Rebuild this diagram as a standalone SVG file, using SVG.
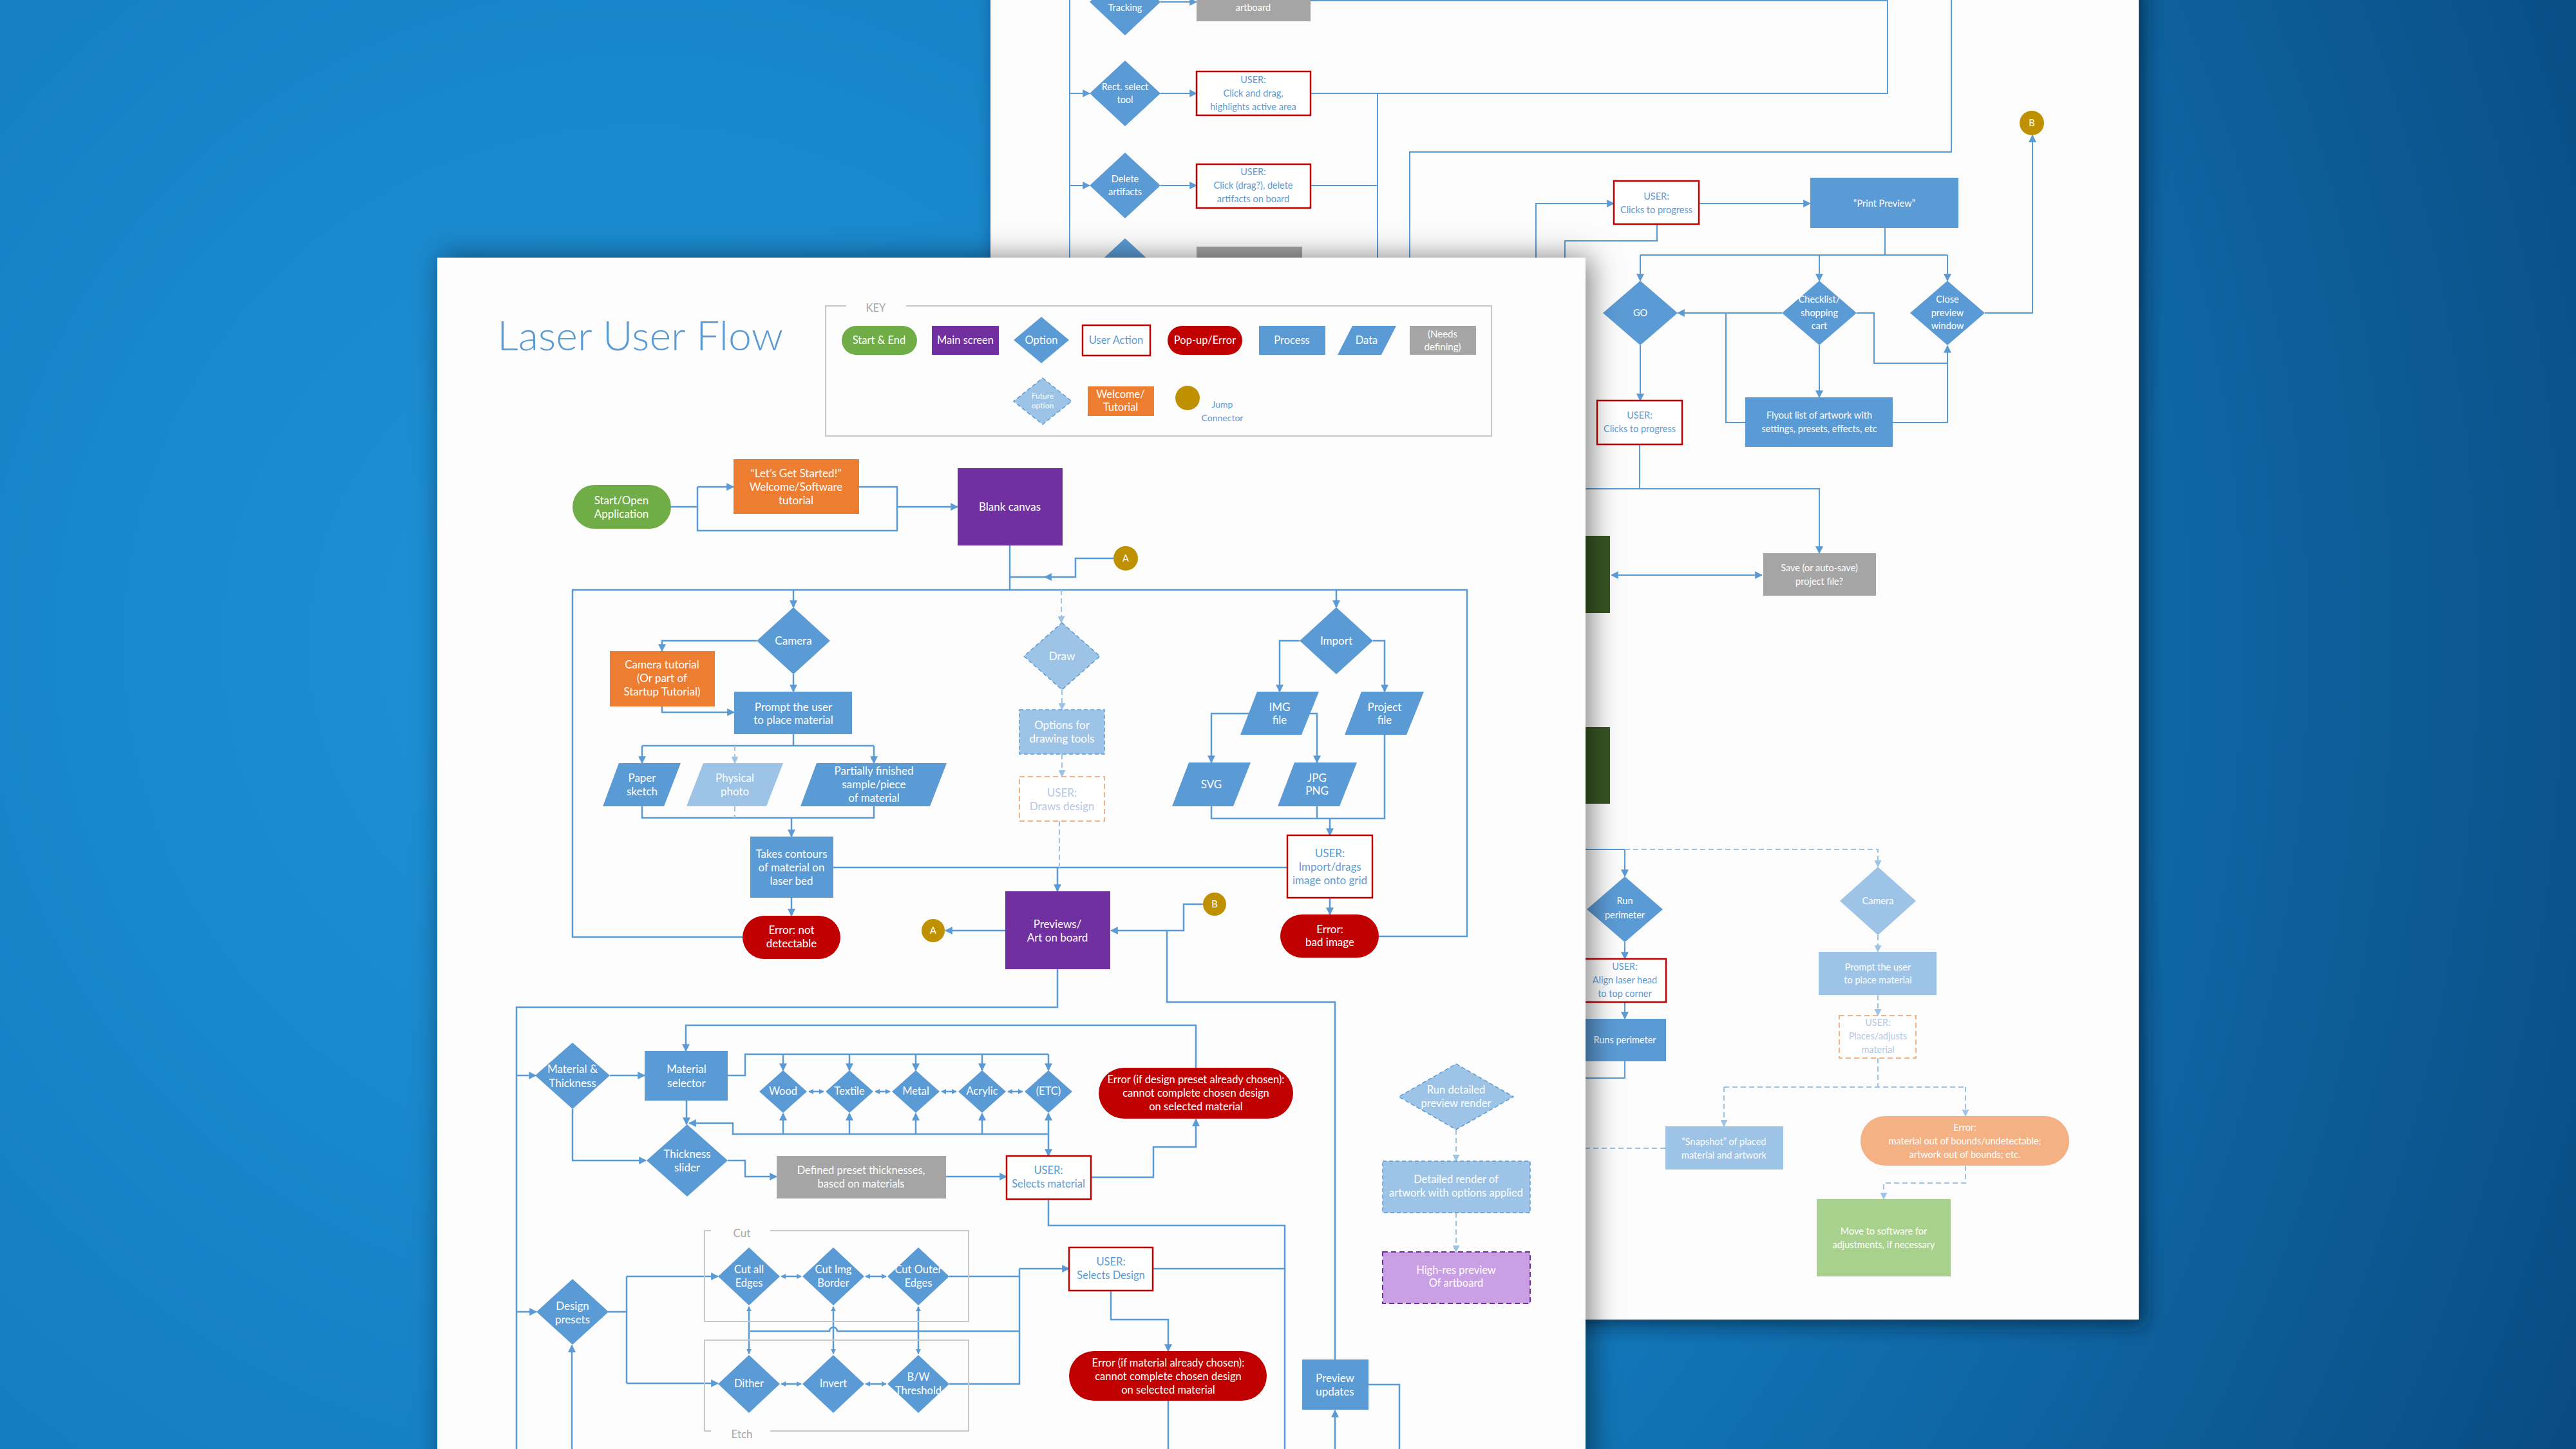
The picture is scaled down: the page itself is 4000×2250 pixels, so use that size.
<svg xmlns="http://www.w3.org/2000/svg" width="4000" height="2250" viewBox="0 0 4000 2250">
<defs>
<radialGradient id="bg" cx="1000" cy="1000" r="3300" gradientUnits="userSpaceOnUse">
<stop offset="0" stop-color="#1f93d8"/><stop offset="0.5" stop-color="#137cc0"/><stop offset="1" stop-color="#094a80"/>
</radialGradient>
<filter id="sh1" x="-5%" y="-5%" width="112%" height="112%"><feDropShadow dx="10" dy="10" stdDeviation="14" flood-color="#001a33" flood-opacity="0.6"/></filter>
<filter id="sh2" x="-5%" y="-5%" width="112%" height="112%"><feDropShadow dx="8" dy="0" stdDeviation="22" flood-color="#000" flood-opacity="0.5"/></filter>
<marker id="ar" viewBox="0 0 10 10" refX="9" refY="5" markerWidth="12" markerHeight="12" markerUnits="userSpaceOnUse" orient="auto-start-reverse"><path d="M0,0 L10,5 L0,10 z" fill="#5b9bd5"/></marker>
<marker id="as" viewBox="0 0 10 10" refX="9" refY="5" markerWidth="8" markerHeight="8" markerUnits="userSpaceOnUse" orient="auto-start-reverse"><path d="M0,0 L10,5 L0,10 z" fill="#5b9bd5"/></marker>
<marker id="al" viewBox="0 0 10 10" refX="9" refY="5" markerWidth="11" markerHeight="11" markerUnits="userSpaceOnUse" orient="auto-start-reverse"><path d="M0,0 L10,5 L0,10 z" fill="#9dc3e6"/></marker>
<style>
text{font-family:Lato,"Open Sans","Liberation Sans",sans-serif;text-anchor:middle;fill:#fff;font-size:17px}
.s14 text,text.s14{font-size:14.5px}
.s15 text,text.s15{font-size:16.5px}
.bt{fill:#5b9bd5}
.lt{fill:#b4c7e7}
.gt{fill:#a6a6a6}
.pr{fill:#5b9bd5}
.fu{fill:#9dc3e6}
.fud{fill:#9dc3e6;stroke:#5b9bd5;stroke-width:1.5;stroke-dasharray:6 4}
.ms{fill:#7030a0}
.st{fill:#70ad47}
.or{fill:#ed7d31}
.er{fill:#c00000}
.gr{fill:#a5a5a5}
.jc{fill:#bf9000}
.ua{fill:#fff;stroke:#c00000;stroke-width:2.5}
.ud{fill:#fff;stroke:#f4b183;stroke-width:2;stroke-dasharray:8 5}
.ln{fill:none;stroke:#5b9bd5;stroke-width:2.5}
.bl{fill:none;stroke:#5b9bd5;stroke-width:2}
.dl{fill:none;stroke:#9dc3e6;stroke-width:2;stroke-dasharray:8 5}
.kb{fill:none;stroke:#c8c8c8;stroke-width:2}
</style>
</defs>
<rect id="background" x="0" y="0" width="4000" height="2250" fill="url(#bg)"/>

<g id="back-page">
<rect x="1538" y="-30" width="1783" height="2079" fill="#fcfcfc" filter="url(#sh1)"/>
<g id="back-connectors">
<path class="bl" d="M1661,0 V402"/>
<path class="bl" d="M1661,145 H1692" marker-end="url(#ar)"/>
<path class="bl" d="M1661,288 H1692" marker-end="url(#ar)"/>
<path class="bl" d="M1661,421 H1692"/>
<path class="bl" d="M1802,3 H1858" marker-end="url(#ar)"/>
<path class="bl" d="M1802,145 H1858" marker-end="url(#ar)"/>
<path class="bl" d="M1802,288 H1858" marker-end="url(#ar)"/>
<path class="bl" d="M2035,1 H2931 V145 H2035"/>
<path class="bl" d="M2035,288 H2139 M2139,145 V402"/>
<path class="bl" d="M2189,402 V236 H3030 V0"/>
<path class="bl" d="M2385,402 V316 H2506" marker-end="url(#ar)"/>
<path class="bl" d="M2573,348 V374 H2430 V402"/>
<path class="bl" d="M2638,316 H2811" marker-end="url(#ar)"/>
<path class="bl" d="M2927,354 V396 M2547,396 H3024"/>
<path class="bl" d="M2547,396 V436" marker-end="url(#ar)"/>
<path class="bl" d="M2825,396 V436" marker-end="url(#ar)"/>
<path class="bl" d="M3024,396 V436" marker-end="url(#ar)"/>
<path class="bl" d="M3082,486 H3156 V210" marker-end="url(#ar)"/>
<path class="bl" d="M2767,486 H2605" marker-end="url(#ar)"/>
<path class="bl" d="M2680,486 V656 H2710"/>
<path class="bl" d="M2883,486 H2910 V564 H3024 V537" marker-end="url(#ar)"/>
<path class="bl" d="M2939,656 H3024 V564"/>
<path class="bl" d="M2825,536 V617" marker-end="url(#ar)"/>
<path class="bl" d="M2547,536 V622" marker-end="url(#ar)"/>
<path class="bl" d="M2546,690 V759 M2462,759 H2825 V859" marker-end="url(#ar)"/>
<path class="bl" d="M2736,893 H2502" marker-start="url(#ar)" marker-end="url(#ar)"/>
<path class="bl" d="M2462,1319 H2523 V1361" marker-end="url(#ar)"/>
<path class="dl" d="M2523,1319 H2916 V1346" marker-end="url(#al)"/>
<path class="bl" d="M2523,1463 V1489" marker-end="url(#ar)"/>
<path class="bl" d="M2523,1556 V1582" marker-end="url(#ar)"/>
<path class="bl" d="M2523,1648 V1674 H2462"/>
<path class="dl" d="M2916,1452 V1478" marker-end="url(#al)"/>
<path class="dl" d="M2916,1545 V1577" marker-end="url(#al)"/>
<path class="dl" d="M2916,1643 V1688 M2677,1688 H3052"/>
<path class="dl" d="M2677,1688 V1749" marker-end="url(#al)"/>
<path class="dl" d="M3052,1688 V1733" marker-end="url(#al)"/>
<path class="dl" d="M2586,1783 H2462"/>
<path class="dl" d="M3052,1810 V1837 H2925 V1862" marker-end="url(#al)"/>
</g>
<g id="tracking" class="s14"><polygon class="pr" points="1747,-49 1802,3 1747,55 1692,3"/><text x="1747" y="17">Tracking</text></g>
<g id="artboard" class="s14"><rect class="gr" x="1858" y="-40" width="177" height="73"/><text x="1946" y="17">artboard</text></g>
<g id="rect-select" class="s14"><polygon class="pr" points="1747,94 1802,145 1747,196 1692,145"/><text x="1747" y="140">Rect. select<tspan x="1747" dy="20">tool</tspan></text></g>
<g id="user-click-drag" class="s14"><rect class="ua" x="1858" y="111" width="177" height="68"/><text class="bt" x="1946" y="129">USER:<tspan x="1946" dy="21">Click and drag,</tspan><tspan x="1946" dy="21">highlights active area</tspan></text></g>
<g id="delete-artifacts" class="s14"><polygon class="pr" points="1747,237 1802,288 1747,339 1692,288"/><text x="1747" y="283">Delete<tspan x="1747" dy="20">artifacts</tspan></text></g>
<g id="user-delete" class="s14"><rect class="ua" x="1858" y="255" width="177" height="68"/><text class="bt" x="1946" y="272">USER:<tspan x="1946" dy="21">Click (drag?), delete</tspan><tspan x="1946" dy="21">artifacts on board</tspan></text></g>
<g id="option-4"><polygon class="pr" points="1747,370 1802,421 1747,472 1692,421"/></g>
<g id="process-4"><rect class="gr" x="1858" y="383" width="164" height="60"/></g>
<g id="user-progress-1" class="s14"><rect class="ua" x="2506" y="281" width="132" height="67"/><text class="bt" x="2572" y="310">USER:<tspan x="2572" dy="21">Clicks to progress</tspan></text></g>
<g id="print-preview" class="s14"><rect class="pr" x="2811" y="276" width="230" height="78"/><text x="2926" y="321">“Print Preview”</text></g>
<g id="go" class="s14"><polygon class="pr" points="2547,436 2605,486 2547,536 2489,486"/><text x="2547" y="491">GO</text></g>
<g id="checklist" class="s14"><polygon class="pr" points="2825,436 2883,486 2825,536 2767,486"/><text x="2825" y="470">Checklist/<tspan x="2825" dy="21">shopping</tspan><tspan x="2825" dy="20">cart</tspan></text></g>
<g id="close-preview" class="s14"><polygon class="pr" points="3024,436 3082,486 3024,536 2966,486"/><text x="3024" y="470">Close<tspan x="3024" dy="21">preview</tspan><tspan x="3024" dy="20">window</tspan></text></g>
<g id="jump-b-2" class="s14"><circle class="jc" cx="3155" cy="191" r="19"/><text x="3155" y="196">B</text></g>
<g id="flyout" class="s14"><rect class="pr" x="2710" y="617" width="229" height="77"/><text x="2825" y="650">Flyout list of artwork with<tspan x="2825" dy="21">settings, presets, effects, etc</tspan></text></g>
<g id="user-progress-2" class="s14"><rect class="ua" x="2480" y="622" width="132" height="68"/><text class="bt" x="2546" y="650">USER:<tspan x="2546" dy="21">Clicks to progress</tspan></text></g>
<g id="save" class="s14"><rect class="gr" x="2738" y="859" width="175" height="66"/><text x="2825" y="887">Save (or auto-save)<tspan x="2825" dy="21">project file?</tspan></text></g>
<g id="green-1"><rect x="2440" y="832" width="60" height="120" fill="#375623"/></g>
<g id="green-2"><rect x="2440" y="1129" width="60" height="119" fill="#375623"/></g>
<g id="run-perimeter" class="s14"><polygon class="pr" points="2523,1361 2582,1412 2523,1463 2464,1412"/><text x="2523" y="1404">Run<tspan x="2523" dy="22">perimeter</tspan></text></g>
<g id="user-align" class="s14"><rect class="ua" x="2455" y="1489" width="132" height="67"/><text class="bt" x="2523" y="1506">USER:<tspan x="2523" dy="21">Align laser head</tspan><tspan x="2523" dy="21">to top corner</tspan></text></g>
<g id="runs-perimeter" class="s14"><rect class="pr" x="2455" y="1582" width="132" height="66"/><text x="2523" y="1620">Runs perimeter</text></g>
<g id="camera-2" class="s14"><polygon class="fu" points="2916,1346 2975,1399 2916,1452 2857,1399"/><text x="2916" y="1404">Camera</text></g>
<g id="prompt-2" class="s14"><rect class="fu" x="2824" y="1478" width="183" height="67"/><text x="2916" y="1507">Prompt the user<tspan x="2916" dy="20">to place material</tspan></text></g>
<g id="user-places" class="s14"><rect class="ud" x="2856" y="1577" width="119" height="66"/><text class="lt" x="2916" y="1593">USER:<tspan x="2916" dy="21">Places/adjusts</tspan><tspan x="2916" dy="21">material</tspan></text></g>
<g id="snapshot" class="s14"><rect class="fu" x="2586" y="1749" width="183" height="67"/><text x="2677" y="1778">“Snapshot” of placed<tspan x="2677" dy="21">material and artwork</tspan></text></g>
<g id="error-bounds" class="s14"><rect x="2889" y="1733" width="324" height="77" rx="38" fill="#f4b183"/><text x="3051" y="1756">Error:<tspan x="3051" dy="21">material out of bounds/undetectable;</tspan><tspan x="3051" dy="21">artwork out of bounds; etc.</tspan></text></g>
<g id="move-software" class="s14"><rect x="2821" y="1862" width="208" height="120" fill="#a9d18e"/><text x="2925" y="1917">Move to software for<tspan x="2925" dy="21">adjustments, if necessary</tspan></text></g>
</g>

<g id="front-page">
<rect x="679" y="400" width="1783" height="1880" fill="#fdfdfd" filter="url(#sh2)"/>
<text id="title" x="772" y="544" style="font-size:64px;font-weight:300;text-anchor:start" class="bt" textLength="444" lengthAdjust="spacingAndGlyphs">Laser User Flow</text>

<g id="key" class="s15">
<path class="kb" d="M1314,475 H1282 V677 H2316 V475 H1407"/>
<text class="gt" x="1360" y="484">KEY</text>
<rect class="st" x="1307" y="506" width="117" height="45" rx="22.5"/><text x="1365" y="534">Start &amp; End</text>
<rect class="ms" x="1447" y="506" width="104" height="45"/><text x="1499" y="534">Main screen</text>
<polygon class="pr" points="1617,492 1660,528 1617,564 1574,528"/><text x="1617" y="534">Option</text>
<rect class="ua" x="1681" y="505" width="105" height="47"/><text class="bt" x="1733" y="534">User Action</text>
<rect class="er" x="1813" y="506" width="116" height="45" rx="22.5"/><text x="1871" y="534">Pop-up/Error</text>
<rect class="pr" x="1955" y="506" width="103" height="45"/><text x="2006" y="534">Process</text>
<polygon class="pr" points="2100,506 2168,506 2145,551 2077,551"/><text x="2122" y="534">Data</text>
<rect class="gr" x="2189" y="506" width="103" height="45"/><text x="2240" y="524" style="font-size:15px">(Needs<tspan x="2240" dy="20">defining)</tspan></text>
<polygon class="fud" points="1619,587 1664,623 1619,659 1574,623"/><text x="1619" y="619" style="font-size:12px">Future<tspan x="1619" dy="15">option</tspan></text>
<rect class="or" x="1689" y="600" width="103" height="46"/><text x="1740" y="618">Welcome/<tspan x="1740" dy="20">Tutorial</tspan></text>
<circle class="jc" cx="1844" cy="618" r="19"/>
<text class="bt" x="1898" y="633" style="font-size:14px">Jump<tspan x="1898" dy="21">Connector</tspan></text>
</g>

<g id="connectors">
<path class="ln" d="M1042,787 H1083 M1083,756 V824 H1393 V756 H1334"/>
<path class="ln" d="M1083,756 H1139" marker-end="url(#ar)"/>
<path class="ln" d="M1393,787 H1487" marker-end="url(#ar)"/>
<path class="ln" d="M1568,847 V916"/>
<path class="ln" d="M1729,867 H1670 V896 H1622" marker-end="url(#ar)"/>
<path class="ln" d="M1624,896 H1568"/>
<path class="ln" d="M1153,1455 H889 V916 H2278 V1454 H2141"/>
<path class="ln" d="M1232,916 V943" marker-end="url(#ar)"/>
<path class="dl" d="M1648,916 V967" marker-end="url(#al)"/>
<path class="ln" d="M2075,916 V943" marker-end="url(#ar)"/>
<path class="ln" d="M1175,995 H1028 V1011" marker-end="url(#ar)"/>
<path class="ln" d="M1232,1047 V1074" marker-end="url(#ar)"/>
<path class="ln" d="M1028,1097 V1106 H1140" marker-end="url(#ar)"/>
<path class="ln" d="M1232,1140 V1158 M997,1158 H1357"/>
<path class="ln" d="M997,1158 V1185" marker-end="url(#ar)"/>
<path class="ln" d="M1357,1158 V1185" marker-end="url(#ar)"/>
<path class="dl" d="M1141,1158 V1185" marker-end="url(#al)"/>
<path class="ln" d="M997,1252 V1270 H1357 V1252"/>
<path class="dl" d="M1141,1252 V1270"/>
<path class="ln" d="M1229,1270 V1299" marker-end="url(#ar)"/>
<path class="ln" d="M1229,1394 V1422" marker-end="url(#ar)"/>
<path class="ln" d="M1294,1347 H1999"/>
<path class="ln" d="M1642,1347 V1384" marker-end="url(#ar)"/>
<path class="ln" d="M1561,1445 H1468" marker-end="url(#ar)"/>
<path class="dl" d="M1649,1071 V1102" marker-end="url(#al)"/>
<path class="dl" d="M1649,1171 V1206" marker-end="url(#al)"/>
<path class="dl" d="M1645,1275 V1347"/>
<path class="ln" d="M2018,995 H1987 V1074" marker-end="url(#ar)"/>
<path class="ln" d="M2132,995 H2150 V1074" marker-end="url(#ar)"/>
<path class="ln" d="M1941,1108 H1881 V1184" marker-end="url(#ar)"/>
<path class="ln" d="M2031,1108 H2045 V1184" marker-end="url(#ar)"/>
<path class="ln" d="M1881,1252 V1271 H2150 V1141 M2045,1252 V1271"/>
<path class="ln" d="M2065,1271 V1297" marker-end="url(#ar)"/>
<path class="ln" d="M2065,1394 V1420" marker-end="url(#ar)"/>
<path class="ln" d="M1868,1404 H1838 V1445 H1725" marker-end="url(#ar)"/>
<path class="ln" d="M1812,1445 V1556 H2073 V2111"/>
<path class="ln" d="M1642,1505 V1564 H802 V2250"/>
<path class="ln" d="M802,1670 H832" marker-end="url(#ar)"/>
<path class="ln" d="M802,2037 H833" marker-end="url(#ar)"/>
<path class="ln" d="M947,1670 H1001" marker-end="url(#ar)"/>
<path class="ln" d="M889,1722 V1802 H1003" marker-end="url(#ar)"/>
<path class="ln" d="M1066,1709 V1746" marker-end="url(#ar)"/>
<path class="ln" d="M1130,1670 H1157 V1637 H1628"/>
<path class="ln" d="M1216,1637 V1662" marker-end="url(#ar)"/>
<path class="ln" d="M1319,1637 V1662" marker-end="url(#ar)"/>
<path class="ln" d="M1422,1637 V1662" marker-end="url(#ar)"/>
<path class="ln" d="M1525,1637 V1662" marker-end="url(#ar)"/>
<path class="ln" d="M1628,1637 V1662" marker-end="url(#ar)"/>
<path class="ln" d="M1628,1761 H1138 V1744 H1070" marker-end="url(#ar)"/>
<path class="ln" d="M1216,1761 V1729" marker-end="url(#ar)"/>
<path class="ln" d="M1319,1761 V1729" marker-end="url(#ar)"/>
<path class="ln" d="M1422,1761 V1729" marker-end="url(#ar)"/>
<path class="ln" d="M1525,1761 V1729" marker-end="url(#ar)"/>
<path class="ln" d="M1628,1761 V1729" marker-end="url(#ar)"/>
<path class="ln" d="M1628,1761 V1795" marker-end="url(#ar)"/>
<path class="ln" d="M1256,1695 H1279" marker-start="url(#as)" marker-end="url(#as)"/>
<path class="ln" d="M1359,1695 H1382" marker-start="url(#as)" marker-end="url(#as)"/>
<path class="ln" d="M1462,1695 H1485" marker-start="url(#as)" marker-end="url(#as)"/>
<path class="ln" d="M1565,1695 H1588" marker-start="url(#as)" marker-end="url(#as)"/>
<path class="ln" d="M1130,1802 H1157 V1827 H1206" marker-end="url(#ar)"/>
<path class="ln" d="M1469,1827 H1563" marker-end="url(#ar)"/>
<path class="ln" d="M1694,1828 H1791 V1781 H1857 V1738" marker-end="url(#ar)"/>
<path class="ln" d="M1857,1658 V1592 H1065 V1632" marker-end="url(#ar)"/>
<path class="ln" d="M1628,1862 V1903 H1995 V2250 M1790,1970 H1995"/>
<path class="ln" d="M944,2037 H973 M973,1982 V2148"/>
<path class="ln" d="M973,1982 H1115" marker-end="url(#ar)"/>
<path class="ln" d="M973,2148 H1115" marker-end="url(#ar)"/>
<path class="ln" d="M1213,1982 H1244" marker-start="url(#as)" marker-end="url(#as)"/>
<path class="ln" d="M1344,1982 H1376" marker-start="url(#as)" marker-end="url(#as)"/>
<path class="ln" d="M1213,2149 H1244" marker-start="url(#as)" marker-end="url(#as)"/>
<path class="ln" d="M1344,2149 H1376" marker-start="url(#as)" marker-end="url(#as)"/>
<path class="ln" d="M1163,2029 V2102" marker-start="url(#as)" marker-end="url(#as)"/>
<path class="ln" d="M1294,2029 V2102" marker-start="url(#as)" marker-end="url(#as)"/>
<path class="ln" d="M1426,2029 V2102" marker-start="url(#as)" marker-end="url(#as)"/>
<path class="ln" d="M1165,2067 H1288 A6,6 0 0 1 1300,2067 H1583"/>
<path class="ln" d="M1474,1982 H1583 M1583,1970 V2149 H1474"/>
<path class="ln" d="M1583,1970 H1660" marker-end="url(#ar)"/>
<path class="ln" d="M1725,2004 V2049 H1814 V2098" marker-end="url(#ar)"/>
<path class="ln" d="M1814,2175 V2250"/>
<path class="ln" d="M2073,2250 V2190" marker-end="url(#ar)"/>
<path class="ln" d="M2125,2150 H2173 V2250"/>
<path class="ln" d="M888,2250 V2089" marker-end="url(#ar)"/>
<path class="dl" d="M2261,1754 V1803" marker-end="url(#al)"/>
<path class="dl" d="M2261,1883 V1944" marker-end="url(#al)"/>
</g>

<g id="start"><rect class="st" x="889" y="753" width="153" height="68" rx="34"/><text x="965" y="783">Start/Open<tspan x="965" dy="21">Application</tspan></text></g>
<g id="welcome"><rect class="or" x="1139" y="713" width="195" height="85"/><text x="1236" y="741">“Let’s Get Started!”<tspan x="1236" dy="21">Welcome/Software</tspan><tspan x="1236" dy="21">tutorial</tspan></text></g>
<g id="blank-canvas"><rect class="ms" x="1487" y="727" width="163" height="120"/><text x="1568" y="793">Blank canvas</text></g>
<g id="jump-a-1" class="s14"><circle class="jc" cx="1748" cy="867" r="19"/><text x="1748" y="872">A</text></g>
<g id="camera"><polygon class="pr" points="1232,943 1289,995 1232,1047 1175,995"/><text x="1232" y="1001">Camera</text></g>
<g id="camera-tutorial"><rect class="or" x="947" y="1011" width="163" height="86"/><text x="1028" y="1038">Camera tutorial<tspan x="1028" dy="21">(Or part of</tspan><tspan x="1028" dy="21">Startup Tutorial)</tspan></text></g>
<g id="prompt"><rect class="pr" x="1140" y="1074" width="183" height="66"/><text x="1232" y="1104">Prompt the user<tspan x="1232" dy="20">to place material</tspan></text></g>
<g id="paper-sketch"><polygon class="pr" points="961,1185 1057,1185 1031,1252 936,1252"/><text x="997" y="1214">Paper<tspan x="997" dy="21">sketch</tspan></text></g>
<g id="physical-photo"><polygon class="fu" points="1092,1185 1216,1185 1190,1252 1066,1252"/><text x="1141" y="1214">Physical<tspan x="1141" dy="21">photo</tspan></text></g>
<g id="partial-sample"><polygon class="pr" points="1268,1185 1470,1185 1444,1252 1243,1252"/><text x="1357" y="1203">Partially finished<tspan x="1357" dy="21">sample/piece</tspan><tspan x="1357" dy="21">of material</tspan></text></g>
<g id="contours"><rect class="pr" x="1165" y="1299" width="129" height="95"/><text x="1229" y="1332">Takes contours<tspan x="1229" dy="21">of material on</tspan><tspan x="1229" dy="21">laser bed</tspan></text></g>
<g id="error-not-detectable"><rect class="er" x="1153" y="1422" width="152" height="67" rx="33.5"/><text x="1229" y="1450">Error: not<tspan x="1229" dy="21">detectable</tspan></text></g>
<g id="jump-a-2" class="s14"><circle class="jc" cx="1449" cy="1445" r="18"/><text x="1449" y="1450">A</text></g>
<g id="previews"><rect class="ms" x="1561" y="1384" width="163" height="121"/><text x="1642" y="1441">Previews/<tspan x="1642" dy="21">Art on board</tspan></text></g>
<g id="draw"><polygon class="fud" points="1649,967 1708,1019 1649,1071 1590,1019"/><text x="1649" y="1025">Draw</text></g>
<g id="draw-options"><rect class="fud" x="1583" y="1102" width="132" height="69"/><text x="1649" y="1132">Options for<tspan x="1649" dy="21">drawing tools</tspan></text></g>
<g id="user-draws"><rect class="ud" x="1583" y="1206" width="132" height="69"/><text class="lt" x="1649" y="1237">USER:<tspan x="1649" dy="21">Draws design</tspan></text></g>
<g id="import"><polygon class="pr" points="2075,943 2132,995 2075,1047 2018,995"/><text x="2075" y="1001">Import</text></g>
<g id="img-file"><polygon class="pr" points="1952,1074 2048,1074 2021,1141 1926,1141"/><text x="1987" y="1104">IMG<tspan x="1987" dy="20">file</tspan></text></g>
<g id="project-file"><polygon class="pr" points="2114,1074 2211,1074 2184,1141 2088,1141"/><text x="2150" y="1104">Project<tspan x="2150" dy="20">file</tspan></text></g>
<g id="svg-file"><polygon class="pr" points="1846,1184 1942,1184 1915,1252 1820,1252"/><text x="1881" y="1224">SVG</text></g>
<g id="jpg-png"><polygon class="pr" points="2010,1184 2107,1184 2080,1252 1984,1252"/><text x="2045" y="1214">JPG<tspan x="2045" dy="20">PNG</tspan></text></g>
<g id="user-import"><rect class="ua" x="1999" y="1297" width="132" height="97"/><text class="bt" x="2065" y="1331">USER:<tspan x="2065" dy="21">Import/drags</tspan><tspan x="2065" dy="21">image onto grid</tspan></text></g>
<g id="error-bad-image"><rect class="er" x="1988" y="1420" width="153" height="67" rx="33.5"/><text x="2065" y="1449">Error:<tspan x="2065" dy="20">bad image</tspan></text></g>
<g id="jump-b-1" class="s14"><circle class="jc" cx="1886" cy="1404" r="18"/><text x="1886" y="1409">B</text></g>
<g id="material-thickness"><polygon class="pr" points="889,1619 947,1670 889,1722 831,1670"/><text x="889" y="1666">Material &amp;<tspan x="889" dy="22">Thickness</tspan></text></g>
<g id="material-selector"><rect class="pr" x="1001" y="1632" width="129" height="77"/><text x="1066" y="1666">Material<tspan x="1066" dy="22">selector</tspan></text></g>
<g id="wood" class="s15"><polygon class="pr" points="1216,1662 1253,1695 1216,1728 1179,1695"/><text x="1216" y="1700">Wood</text></g>
<g id="textile" class="s15"><polygon class="pr" points="1319,1662 1356,1695 1319,1728 1282,1695"/><text x="1319" y="1700">Textile</text></g>
<g id="metal" class="s15"><polygon class="pr" points="1422,1662 1459,1695 1422,1728 1385,1695"/><text x="1422" y="1700">Metal</text></g>
<g id="acrylic" class="s15"><polygon class="pr" points="1525,1662 1562,1695 1525,1728 1488,1695"/><text x="1525" y="1700">Acrylic</text></g>
<g id="etc" class="s15"><polygon class="pr" points="1628,1662 1665,1695 1628,1728 1591,1695"/><text x="1628" y="1700">(ETC)</text></g>
<g id="thickness-slider"><polygon class="pr" points="1067,1746 1130,1802 1067,1858 1004,1802"/><text x="1067" y="1798">Thickness<tspan x="1067" dy="21">slider</tspan></text></g>
<g id="preset-thicknesses" class="s15"><rect class="gr" x="1206" y="1795" width="263" height="66"/><text x="1337" y="1823">Defined preset thicknesses,<tspan x="1337" dy="21">based on materials</tspan></text></g>
<g id="user-selects-material" class="s15"><rect class="ua" x="1563" y="1795" width="131" height="67"/><text class="bt" x="1628" y="1823">USER:<tspan x="1628" dy="21">Selects material</tspan></text></g>
<g id="error-design-preset" class="s15"><rect class="er" x="1706" y="1658" width="302" height="79" rx="39.5"/><text x="1857" y="1682">Error (if design preset already chosen):<tspan x="1857" dy="21">cannot complete chosen design</tspan><tspan x="1857" dy="21">on selected material</tspan></text></g>
<g id="design-presets"><polygon class="pr" points="889,1986 945,2037 889,2088 833,2037"/><text x="889" y="2034">Design<tspan x="889" dy="21">presets</tspan></text></g>
<g id="cut-group"><path class="kb" d="M1104,1911 H1094 V2052 H1504 V1911 H1196"/><text class="gt" x="1152" y="1921">Cut</text></g>
<g id="etch-group"><path class="kb" d="M1104,2222 H1094 V2081 H1504 V2222 H1196"/><text class="gt" x="1152" y="2233">Etch</text></g>
<g id="cut-all-edges" class="s15"><polygon class="pr" points="1163,1937 1211,1982 1163,2027 1115,1982"/><text x="1163" y="1977">Cut all<tspan x="1163" dy="21">Edges</tspan></text></g>
<g id="cut-img-border" class="s15"><polygon class="pr" points="1294,1937 1342,1982 1294,2027 1246,1982"/><text x="1294" y="1977">Cut Img<tspan x="1294" dy="21">Border</tspan></text></g>
<g id="cut-outer-edges" class="s15"><polygon class="pr" points="1426,1937 1474,1982 1426,2027 1378,1982"/><text x="1426" y="1977">Cut Outer<tspan x="1426" dy="21">Edges</tspan></text></g>
<g id="dither" class="s15"><polygon class="pr" points="1163,2104 1211,2149 1163,2194 1115,2149"/><text x="1163" y="2154">Dither</text></g>
<g id="invert" class="s15"><polygon class="pr" points="1294,2104 1342,2149 1294,2194 1246,2149"/><text x="1294" y="2154">Invert</text></g>
<g id="bw-threshold" class="s15"><polygon class="pr" points="1426,2104 1474,2149 1426,2194 1378,2149"/><text x="1426" y="2144">B/W<tspan x="1426" dy="21">Threshold</tspan></text></g>
<g id="user-selects-design" class="s15"><rect class="ua" x="1660" y="1937" width="130" height="67"/><text class="bt" x="1725" y="1965">USER:<tspan x="1725" dy="21">Selects Design</tspan></text></g>
<g id="error-material" class="s15"><rect class="er" x="1660" y="2098" width="307" height="77" rx="38.5"/><text x="1814" y="2122">Error (if material already chosen):<tspan x="1814" dy="21">cannot complete chosen design</tspan><tspan x="1814" dy="21">on selected material</tspan></text></g>
<g id="preview-updates"><rect class="pr" x="2022" y="2111" width="103" height="78"/><text x="2073" y="2146">Preview<tspan x="2073" dy="21">updates</tspan></text></g>
<g id="run-detailed" class="s15"><polygon class="fud" points="2261,1652 2350,1703 2261,1754 2172,1703"/><text x="2261" y="1698">Run detailed<tspan x="2261" dy="21">preview render</tspan></text></g>
<g id="detailed-render" class="s15"><rect class="fud" x="2147" y="1803" width="229" height="80"/><text x="2261" y="1837">Detailed render of<tspan x="2261" dy="21">artwork with options applied</tspan></text></g>
<g id="high-res" class="s15"><rect x="2147" y="1944" width="229" height="80" fill="#c9a0e4" stroke="#7030a0" stroke-width="2" stroke-dasharray="8 5"/><text x="2261" y="1978">High-res preview<tspan x="2261" dy="20">Of artboard</tspan></text></g>
</g>
</svg>
